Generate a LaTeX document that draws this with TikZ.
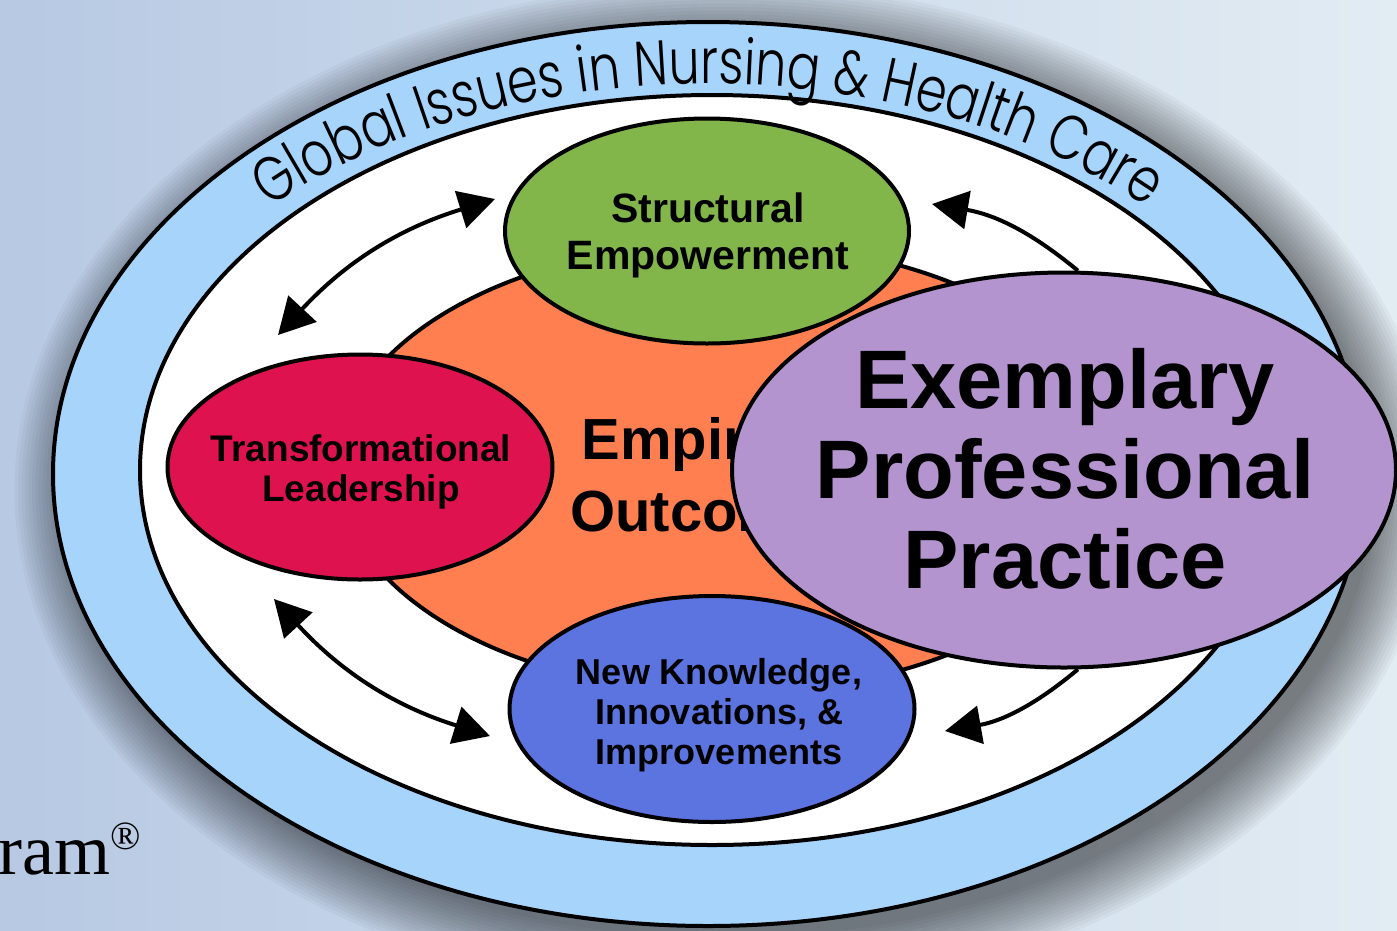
\documentclass[tikz,border=0pt]{standalone}
\usepackage{fontspec}
\usepackage{tikz}
\usepackage{xcolor}
\usetikzlibrary{shapes.geometric,arrows.meta,decorations.text}
\newfontfamily\labelfont{Liberation Sans}
\newfontfamily\bandfont{Poppins Light}[FakeStretch=0.78]
\newfontfamily\markfont{Liberation Serif}
\newcommand\bandtext{\bandfont\fontsize{63}{63}\selectfont}
\definecolor{bg-left}{HTML}{B7C9E3}
\definecolor{bg-right}{HTML}{E2ECF3}
\definecolor{ring-blue}{HTML}{A6D4FA}
\definecolor{empirical-orange}{HTML}{FF7F50}
\definecolor{structural-green}{HTML}{82B64B}
\definecolor{leadership-red}{HTML}{DF1250}
\definecolor{knowledge-blue}{HTML}{5C74E0}
\definecolor{practice-purple}{HTML}{B394CF}
\tikzset{
    model-ellipse/.style = {draw=black, line width=4pt, ellipse, inner sep=0pt},
    label-font/.style 2 args = {font=\labelfont\bfseries\fontsize{#1}{#2}\selectfont, align=center, inner sep=0pt},
    ring-arrow/.style = {line width=4pt, -{Triangle[length=36pt, width=38pt]}},
    twin-arrow/.style = {line width=4pt, {Triangle[length=36pt, width=38pt]}-{Triangle[length=36pt, width=38pt]}},
}

\begin{document}
\begin{tikzpicture}[x=1pt, y=-1pt]
\useasboundingbox (0,0) rectangle (1397,930);
\clip (0,0) rectangle (1397,930);
\shade[left color=bg-left, right color=bg-right] (0,0) rectangle (1397,930);
% soft shadow round the ring
\foreach \k in {0,...,17}
    \fill[black, opacity=0.032] (724,490) ellipse [x radius=650+3.5*\k, y radius=448+3.5*\k];

\node[model-ellipse, fill=ring-blue, minimum width=1310pt, minimum height=904pt] (ring) at (708,474) {};
\node[model-ellipse, fill=white, minimum width=1144pt, minimum height=750pt] (inner) at (712,470) {};
\path[decorate, decoration={text along path, text align=center,
    text={|\bandtext|Global Issues in Nursing {\&} Health Care}}]
    (ring.center) ++(200:600 and 390) arc[start angle=200, end angle=340, x radius=600, y radius=390];

\node[model-ellipse, fill=empirical-orange, minimum width=784pt, minimum height=450pt] (empirical) at (729,468) {};
\node[label-font={58}{72}] (empirical-label) at (712,475) {Empirical\\Outcomes};

\node[model-ellipse, fill=practice-purple, minimum width=664pt, minimum height=395pt] (practice) at (1064,470) {};
\node[label-font={83}{90}] (practice-label) at (1065,469) {Exemplary\\Professional\\Practice};

\node[model-ellipse, fill=structural-green, minimum width=404pt, minimum height=225pt] (structural) at (707,231) {};
\node[label-font={41}{47}] (structural-label) at (708,235) {Structural\\Empowerment};

\node[model-ellipse, fill=leadership-red, minimum width=385pt, minimum height=225pt] (leadership) at (360,467) {};
\node[label-font={37}{40}] (leadership-label) at (361,472) {Transformational\\Leadership};

\node[model-ellipse, fill=knowledge-blue, minimum width=405pt, minimum height=226pt] (knowledge) at (712,709) {};
\node[label-font={36}{40}] (knowledge-label) at (719,715) {New Knowledge,\\Innovations, \&\\Improvements};

% arrows between the pillars
\coordinate (lead-struct-a) at (278,335);
\coordinate (lead-struct-b) at (495,199);
\draw[twin-arrow] (lead-struct-a) to[bend left=15] (lead-struct-b);
\coordinate (lead-know-a) at (274,599);
\coordinate (lead-know-b) at (490,736);
\draw[twin-arrow] (lead-know-a) to[bend right=15] (lead-know-b);
\coordinate (struct-tip) at (932,204);
\draw[ring-arrow] (practice.86) to[bend right=15] (struct-tip);
\coordinate (know-tip) at (945,731);
\draw[ring-arrow] (practice.-86) to[bend left=15] (know-tip);

\node[font=\markfont\fontsize{72}{72}\selectfont, anchor=base east, inner sep=0pt] (program-mark) at (141,874) {ram\raisebox{25pt}{\fontsize{40}{40}\selectfont ®}};
\end{tikzpicture}
\end{document}
